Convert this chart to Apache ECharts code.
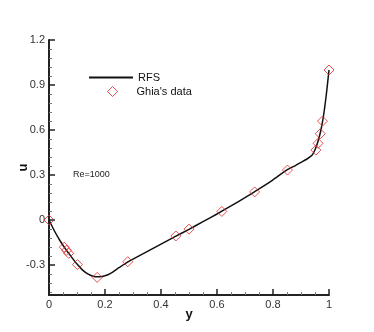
<!DOCTYPE html>
<html>
<head>
<meta charset="utf-8">
<script src="https://cdn.jsdelivr.net/npm/echarts@6/dist/echarts.min.js"></script>
<style>
  html, body { margin: 0; padding: 0; background: #fff; }
  #chart { width: 374px; height: 332px; }
</style>
</head>
<body>
<div id="chart"></div>
<script>
// RFS solution, u along vertical centreline
const rfsY = [0, 0.02, 0.04, 0.06, 0.08, 0.10, 0.12, 0.14, 0.16, 0.18, 0.20, 0.22, 0.25, 0.28,
  0.30, 0.35, 0.40, 0.45, 0.50, 0.55, 0.60, 0.65, 0.70, 0.75, 0.80, 0.85, 0.88, 0.90, 0.92,
  0.94, 0.95, 0.96, 0.97, 0.98, 0.99, 1.0];
const rfsU = [0, -0.075, -0.14, -0.196, -0.246, -0.294, -0.334, -0.361, -0.376, -0.378, -0.372,
  -0.356, -0.318, -0.281, -0.261, -0.211, -0.161, -0.111, -0.062, -0.011, 0.040, 0.094, 0.149,
  0.207, 0.268, 0.334, 0.363, 0.384, 0.405, 0.433, 0.468, 0.52, 0.59, 0.69, 0.83, 1.0];

// Ghia et al. data
const ghiaY = [1.0000, 0.9766, 0.9688, 0.9609, 0.9531, 0.8516, 0.7344, 0.6172, 0.5000, 0.4531,
  0.2813, 0.1719, 0.1016, 0.0703, 0.0625, 0.0547, 0.0000];
const ghiaU = [1.0, 0.65928, 0.57492, 0.51117, 0.46604, 0.33304, 0.18719, 0.05702, -0.06080,
  -0.10648, -0.27805, -0.38289, -0.29730, -0.22220, -0.20196, -0.18109, 0.0];

const uMajorTicks = [-0.3, 0, 0.3, 0.6, 0.9, 1.2];
const uMinorTicks = [];
for (let i = -8; i <= 20; i++) {
  const v = Math.round(i * 0.06 * 100) / 100;
  if (!uMajorTicks.some(m => Math.abs(m - v) < 1e-6)) uMinorTicks.push(v);
}

const font = 'Liberation Sans, Arial, sans-serif';
const axisColor = '#222';
const red = '#e02828';

const chart = echarts.init(document.getElementById('chart'));
chart.setOption({
  animation: false,
  grid: { left: 49, right: 45, top: 40, bottom: 37, outerBoundsMode: 'none' },
  legend: [{
    left: 84,
    top: 67,
    itemWidth: 44,
    itemHeight: 2,
    textStyle: { fontFamily: font, fontSize: 11, color: '#111' },
    data: [{ name: 'RFS', icon: 'rect', itemStyle: { color: '#111' } }]
  }, {
    left: 102,
    top: 81,
    itemWidth: 10,
    itemHeight: 10,
    textStyle: { fontFamily: font, fontSize: 11, color: '#111', padding: [0, 0, 0, 14] },
    data: [{
      name: "Ghia's data",
      icon: 'diamond',
      itemStyle: { color: 'rgba(0,0,0,0)', borderColor: red, borderWidth: 1 }
    }]
  }],
  graphic: [{
    type: 'text',
    left: 73,
    top: 170,
    style: { text: 'Re=1000', font: '9px ' + font, fill: '#222' }
  }],
  xAxis: {
    type: 'value',
    min: 0,
    max: 1,
    interval: 0.2,
    name: 'y',
    nameLocation: 'middle',
    nameGap: 13,
    nameMoveOverlap: false,
    nameTextStyle: { fontFamily: font, fontSize: 13, fontWeight: 'bold', color: '#111', verticalAlign: 'top' },
    axisLine: { onZero: false, lineStyle: { color: axisColor, width: 2 } },
    axisTick: { inside: true, length: 6, lineStyle: { color: axisColor, width: 1.5 } },
    minorTick: { show: true, splitNumber: 4, length: 3, lineStyle: { color: '#777' } },
    axisLabel: { margin: 4, fontFamily: font, fontSize: 11, color: '#333' },
    splitLine: { show: false }
  },
  yAxis: [{
    type: 'value',
    min: -0.5,
    max: 1.2,
    name: 'u',
    nameLocation: 'middle',
    nameRotate: 90,
    nameGap: 19,
    nameMoveOverlap: false,
    nameTextStyle: { fontFamily: font, fontSize: 13, fontWeight: 'bold', color: '#111' },
    axisLine: { show: true, onZero: false, lineStyle: { color: axisColor, width: 2 } },
    axisTick: { inside: true, length: 6, customValues: uMajorTicks, lineStyle: { color: axisColor, width: 1.5 } },
    axisLabel: { margin: 4, customValues: uMajorTicks, fontFamily: font, fontSize: 11, color: '#333' },
    splitLine: { show: false }
  }, {
    type: 'value',
    position: 'left',
    min: -0.5,
    max: 1.2,
    axisLine: { show: false, onZero: false },
    axisTick: { show: true, inside: true, length: 3, customValues: uMinorTicks, lineStyle: { color: '#777' } },
    axisLabel: { show: false },
    splitLine: { show: false }
  }],
  series: [{
    name: 'RFS',
    type: 'line',
    data: rfsY.map((y, i) => [y, rfsU[i]]),
    symbol: 'none',
    smooth: 0.2,
    lineStyle: { color: '#111', width: 1.5 },
    itemStyle: { color: '#111' },
    z: 2
  }, {
    name: "Ghia's data",
    type: 'scatter',
    data: ghiaY.map((y, i) => [y, ghiaU[i]]),
    symbol: 'diamond',
    symbolSize: 10,
    itemStyle: { color: 'rgba(0,0,0,0)', borderColor: red, borderWidth: 1 },
    z: 3
  }]
});
</script>
</body>
</html>
